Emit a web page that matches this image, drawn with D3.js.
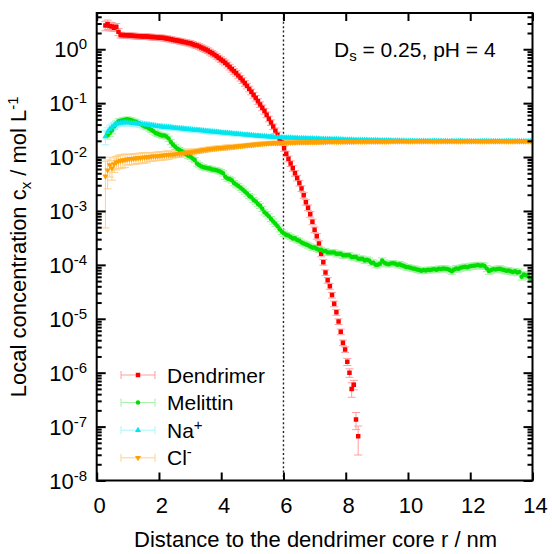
<!DOCTYPE html>
<html><head><meta charset="utf-8">
<script src="https://cdn.jsdelivr.net/npm/d3@7"></script>
<style>
body{margin:0;background:#fff}
svg{display:block}
text{font-family:"Liberation Sans",Arial,Helvetica,sans-serif;fill:#000}
</style>
</head><body>
<svg id="chart" width="552" height="554"></svg>
<script>
// ---------------- data ----------------
const rStep = 0.07;               // nm, radial bin width
const xTickValues = [0, 2, 4, 6, 8, 10, 12, 14];
const yExponents = [0, -1, -2, -3, -4, -5, -6, -7, -8];
const markerR = 6;                // dotted line position (nm)

const dendrimerStart = 4;
const dendrimerConc = [
 2.75,2.9,2.7,2.65,2.5,2.6,2.1,1.84,1.83,1.82,
 1.81,1.79,1.79,1.77,1.76,1.75,1.74,1.73,1.73,1.72,
 1.71,1.69,1.68,1.66,1.65,1.64,1.63,1.61,1.58,1.56,
 1.53,1.50,1.47,1.45,1.42,1.39,1.36,1.34,1.31,1.29,
 1.24,1.20,1.17,1.13,1.08,1.035,0.993,0.946,0.891,0.841,
 0.794,0.741,0.692,0.646,0.603,0.562,0.513,0.468,0.427,0.389,
 0.359,0.324,0.292,0.263,0.234,0.209,0.184,0.162,0.141,0.124,
 0.108,0.0944,0.0822,0.0713,0.061,0.0513,0.0437,0.0367,0.0309,0.026,
 0.0221,0.0186,0.0145,0.0115,0.0093,0.0076,0.0062,0.005,0.0041,0.0033,
 0.0026,0.00195,0.00145,0.00115,8.7e-4,6.3e-4,4.5e-4,3.4e-4,2.5e-4,1.6e-4,
 1.12e-4,7.2e-5,5.2e-5,4.0e-5,2.75e-5,1.9e-5,1.32e-5,8.9e-6,5.75e-6,3.6e-6,
 2.7e-6,1.6e-6,1.0e-6,5.0e-7,6.0e-7,1.35e-7,6.6e-8
];
const dendrimerErrPct = [
 20,20,18,18,15,15,15,12,12,12,
 12,12,12,12,12,12,12,12,12,12,
 12,12,12,12,12,12,12,12,12,12,
 12,12,12,12,12,12,12,12,12,12,
 12,12,12,12,12,12,12,12,12,12,
 12,12,12,12,12,12,12,12,12,12,
 12,12,12,12,12,12,12,12,12,12,
 12,12,12,12,12,12,12,12,12,12,
 12,12,12,12,12,12,12,12,12,12,
 12,12,12,12,12,12,12,12,12,12,
 12,12,12,12,12,12,12,12,12,12,
 12,15,18,30,20,35,55
];

const melittinStart = 5;
const melittinConc = [
 0.0253,0.028,0.031,0.037,0.042,0.046,0.047,0.048,0.049,0.050,
 0.049,0.048,0.046,0.045,0.043,0.041,0.039,0.037,0.036,0.034,
 0.032,0.030,0.028,0.027,0.026,0.025,0.025,0.024,0.022,0.019,
 0.017,0.0155,0.0143,0.0135,0.0128,0.0122,0.0113,0.0106,0.0102,0.0094,
 0.0088,0.0076,0.0071,0.0067,0.0065,0.0063,0.0062,0.0061,0.0059,0.0058,
 0.0057,0.0055,0.0053,0.0050,0.0043,0.0040,0.0039,0.0037,0.0033,0.0031,
 0.0029,0.0027,0.0025,0.0023,0.0021,0.0019,0.0018,0.0016,0.0015,0.00135,
 0.00125,0.0011,0.00095,0.00088,0.0008,0.00071,0.00064,0.00058,0.00052,0.00046,
 0.00041,0.00038,0.00036,0.00035,0.00033,0.00031,0.00031,0.00029,0.00028,0.00026,
 0.00025,0.00024,0.00023,0.00022,0.00021,0.00021,0.0002,0.00019,0.00019,0.00018,
 0.00018,0.00017,0.00017,0.00017,0.00017,0.00016,0.00016,0.00016,0.00015,0.00015,
 0.00015,0.00015,0.00014,0.00014,0.00014,0.00013,0.00013,0.00013,0.00012,0.000125,
 0.00012,0.00011,0.00011,0.0001,0.0001,0.000105,1.2e-4,1.1e-4,1.05e-4,1.03e-4,
 1.06e-4,1.07e-4,1.05e-4,1.0e-4,1.03e-4,9.8e-5,9.5e-5,9.1e-5,9.0e-5,8.8e-5,
 8.6e-5,8.5e-5,8.2e-5,8.0e-5,7.8e-5,8.0e-5,7.9e-5,8.1e-5,8.0e-5,8.2e-5,
 8.3e-5,8.1e-5,8.5e-5,8.4e-5,8.6e-5,8.5e-5,8.4e-5,8.0e-5,7.6e-5,8.2e-5,
 8.6e-5,8.5e-5,8.8e-5,9.0e-5,9.2e-5,9.0e-5,9.3e-5,9.5e-5,9.6e-5,9.7e-5,
 9.9e-5,9.6e-5,9.8e-5,9.5e-5,8.6e-5,7.7e-5,8.0e-5,8.3e-5,8.2e-5,8.4e-5,
 8.5e-5,8.2e-5,8.0e-5,7.8e-5,7.9e-5,7.6e-5,7.4e-5,7.6e-5,7.2e-5,7.4e-5,
 6.0e-5,6.6e-5,6.4e-5,6.2e-5,5.6e-5,5.8e-5
];
const melittinErrPct = [
 15,14,13,12,11,11,11,11,11,11,
 11,11,11,11,11,11,11,11,11,11,
 11,11,11,11,11,11,11,11,11,11,
 11,11,11,11,11,11,11,11,11,11,
 11,11,11,11,11,11,11,11,11,11,
 11,11,11,11,11,11,11,11,11,11,
 11,11,11,11,11,11,11,11,11,11,
 11,11,11,11,11,11,11,11,11,11,
 11,11,11,11,11,11,11,11,11,11,
 11,11,11,11,11,11,11,11,11,11,
 12,12,12,12,12,12,12,12,12,12,
 12,12,12,12,12,12,12,12,12,12,
 12,12,12,12,12,12,12,12,12,12,
 12,12,12,12,12,12,12,12,12,12,
 12,12,12,12,12,12,12,12,12,12,
 12,12,12,12,12,12,12,12,12,12,
 13,13,13,13,13,13,13,13,13,13,
 13,13,13,13,13,13,13,13,13,13,
 13,13,13,13,13,13,13,13,13,13,
 13,13,13,13,13,13
];

const sodiumStart = 4;
const sodiumConc = [
 0.024,0.029,0.033,0.036,0.039,0.041,0.042,0.043,0.0435,0.0437,
 0.0437,0.0434,0.0430,0.0425,0.0420,0.0415,0.0410,0.0406,0.0401,0.0396,
 0.0392,0.0387,0.0383,0.0378,0.0374,0.0370,0.0366,0.0362,0.0359,0.0356,
 0.0352,0.0349,0.0346,0.0343,0.0340,0.0337,0.0333,0.0330,0.0327,0.0324,
 0.0322,0.0319,0.0316,0.0313,0.0310,0.0308,0.0305,0.0302,0.0299,0.0296,
 0.0294,0.0291,0.0288,0.0286,0.0283,0.0281,0.0278,0.0276,0.0274,0.0271,
 0.0269,0.0267,0.0264,0.0262,0.0260,0.0258,0.0256,0.0254,0.0252,0.0249,
 0.0248,0.0245,0.0244,0.0242,0.0241,0.0239,0.0238,0.0236,0.0234,0.0233,
 0.0232,0.0230,0.0229,0.02286,0.0228,0.0227,0.0226,0.0225,0.0225,0.0224,
 0.0223,0.0222,0.0222,0.0221,0.0220,0.0220,0.0219,0.0218,0.0218,0.0217,
 0.0217,0.0216,0.0215,0.0215,0.0214,0.0214,0.0213,0.0212,0.0212,0.0211,
 0.0210,0.0210,0.0209,0.0209,0.0208,0.0208,0.0207,0.0207,0.0206,0.0206,
 0.0206,0.0205,0.0205,0.0204,0.0204,0.0204,0.0203,0.0203,0.0203,0.0202,
 0.0202,0.0202,0.0201,0.0201,0.0201,0.0200,0.0200,0.0200,0.0199,0.0199,
 0.0199,0.0198,0.0199,0.0199,0.0198,0.0199,0.0198,0.0198,0.0199,0.0198,
 0.0198,0.0198,0.0197,0.0198,0.0198,0.0197,0.0198,0.0197,0.0197,0.0198,
 0.0197,0.0197,0.0197,0.0198,0.0197,0.0197,0.0196,0.0197,0.0197,0.0197,
 0.0197,0.0196,0.0197,0.0197,0.0197,0.0196,0.0197,0.0197,0.0196,0.0197,
 0.0197,0.0196,0.0197,0.0196,0.0197,0.0197,0.0196,0.0197,0.0196,0.0197,
 0.0196,0.0197,0.0196,0.0197,0.0197,0.0196,0.0197
];
const sodiumErrPct = [
 30,20,15,13,13,13,13,13,13,13,
 13,13,13,13,13,13,13,13,13,13,
 11,11,11,11,11,11,11,11,11,11,
 10,10,10,10,10,10,10,10,10,10,
 10,10,10,10,10,10,10,10,10,10,
 9,9,9,9,9,9,9,9,9,9,
 8,8,8,8,8,8,8,8,8,8,
 8,8,8,8,8,8,8,8,8,8,
 7,7,7,7,7,7,7,7,7,7,
 7,7,7,7,7,7,7,7,7,7,
 6,6,6,6,6,6,6,6,6,6,
 6,6,6,6,6,6,6,6,6,6,
 6,6,6,6,6,6,6,6,6,6,
 6,6,6,6,6,6,6,6,6,6,
 6,6,6,6,6,6,6,6,6,6,
 6,6,6,6,6,6,6,6,6,6,
 6,6,6,6,6,6,6,6,6,6,
 6,6,6,6,6,6,6,6,6,6,
 6,6,6,6,6,6,6,6,6,6,
 6,6,6,6,6,6,6
];

const chlorideStart = 4;
const chlorideConc = [
 0.0044,0.0057,0.0071,0.0062,0.0074,0.0080,0.0084,0.0086,0.0087,0.0089,
 0.0091,0.0092,0.0093,0.0094,0.0095,0.0096,0.0097,0.0098,0.0099,0.0100,
 0.0101,0.0102,0.0103,0.0104,0.0105,0.0106,0.0107,0.0108,0.0109,0.0110,
 0.0111,0.0112,0.0113,0.0114,0.0115,0.0117,0.0119,0.0121,0.0122,0.0124,
 0.0126,0.0127,0.0129,0.0131,0.0133,0.0135,0.0137,0.0139,0.0141,0.0143,
 0.0144,0.0145,0.0147,0.0148,0.0149,0.0151,0.0152,0.0153,0.0155,0.0156,
 0.0158,0.0159,0.0161,0.0162,0.0164,0.0165,0.0167,0.0168,0.0170,0.0172,
 0.0173,0.0175,0.0177,0.0178,0.0179,0.0180,0.0181,0.0182,0.0183,0.0183,
 0.0184,0.0185,0.0185,0.0186,0.0186,0.0187,0.0187,0.0187,0.0188,0.0188,
 0.0188,0.0189,0.0189,0.0189,0.0190,0.0190,0.0190,0.0190,0.0191,0.0191,
 0.0191,0.0191,0.0192,0.0192,0.0192,0.0192,0.0192,0.0193,0.0193,0.0193,
 0.0193,0.0193,0.0193,0.0193,0.0193,0.0194,0.0194,0.0194,0.0194,0.0194,
 0.0194,0.0194,0.0194,0.0195,0.0195,0.0195,0.0195,0.0195,0.0195,0.0195,
 0.0195,0.0196,0.0196,0.0196,0.0196,0.0196,0.0196,0.0196,0.0196,0.0196,
 0.0196,0.0196,0.0197,0.0196,0.0196,0.0197,0.0196,0.0196,0.0197,0.0196,
 0.0197,0.0196,0.0197,0.0197,0.0196,0.0197,0.0197,0.0196,0.0197,0.0197,
 0.0197,0.0196,0.0197,0.0197,0.0197,0.0197,0.0196,0.0197,0.0197,0.0197,
 0.0197,0.0197,0.0197,0.0196,0.0197,0.0197,0.0197,0.0197,0.0197,0.0196,
 0.0197,0.0197,0.0197,0.0197,0.0196,0.0197,0.0197,0.0197,0.0197,0.0197,
 0.0197,0.0197,0.0196,0.0197,0.0197,0.0197,0.0197
];
const chlorideErrPct = [
 89,55,40,40,30,28,28,28,28,28,
 22,22,22,22,22,22,22,22,22,22,
 18,18,18,18,18,18,18,18,18,18,
 14,14,14,14,14,14,14,14,14,14,
 10,10,10,10,10,10,10,10,10,10,
 10,10,10,10,10,10,10,10,10,10,
 8,8,8,8,8,8,8,8,8,8,
 8,8,8,8,8,8,8,8,8,8,
 8,8,8,8,8,8,8,8,8,8,
 8,8,8,8,8,8,8,8,8,8,
 6,6,6,6,6,6,6,6,6,6,
 6,6,6,6,6,6,6,6,6,6,
 6,6,6,6,6,6,6,6,6,6,
 6,6,6,6,6,6,6,6,6,6,
 6,6,6,6,6,6,6,6,6,6,
 6,6,6,6,6,6,6,6,6,6,
 6,6,6,6,6,6,6,6,6,6,
 6,6,6,6,6,6,6,6,6,6,
 6,6,6,6,6,6,6,6,6,6,
 6,6,6,6,6,6,6
];

const seriesNames = ["Dendrimer", "Melittin", "Na", "Cl"];
const seriesSup = ["", "", "+", "-"];

// ---------------- chart ----------------
const svg = d3.select("#chart");
const plotL = 96.7, plotR = 532.5, plotT = 13, plotB = 480.5;
const x = d3.scaleLinear().domain([0, 14]).range([plotL, plotR]);
const y = d3.scaleLog().domain([1e-8, 4.7]).range([plotB, plotT]);

const series = [
  {conc: dendrimerConc, err: dendrimerErrPct, start: dendrimerStart, color: "#ff0000", errColor: "#ff9f9f", sym: d3.symbolSquare, size: 20, rot: 0},
  {conc: melittinConc, err: melittinErrPct, start: melittinStart, color: "#00dd00", errColor: "#a4f0a4", sym: d3.symbolCircle, size: 16, rot: 0},
  {conc: sodiumConc, err: sodiumErrPct, start: sodiumStart, color: "#00e5ee", errColor: "#a8f6fa", sym: d3.symbolTriangle, size: 16, rot: 0},
  {conc: chlorideConc, err: chlorideErrPct, start: chlorideStart, color: "#ffa000", errColor: "#ffd08a", sym: d3.symbolTriangle, size: 16, rot: 180}
];
series.forEach(s => {
  s.pts = s.conc.map((c, i) => ({r: (s.start + i) * rStep, c, e: c * s.err[i] / 100}));
});

svg.append("defs").append("clipPath").attr("id", "clip")
  .append("rect").attr("x", plotL).attr("y", plotT).attr("width", plotR - plotL).attr("height", plotB - plotT);

const plot = svg.append("g").attr("clip-path", "url(#clip)");

// dotted line
plot.append("line")
  .attr("x1", x(markerR)).attr("x2", x(markerR)).attr("y1", plotT).attr("y2", plotB)
  .attr("stroke", "#222").attr("stroke-width", 1.4).attr("stroke-dasharray", "2,2.4");

const capW = 4;
const yMin = 1e-8, yMax = 4.7;
// error bars first
series.forEach(s => {
  const g = plot.append("g").attr("stroke", s.errColor).attr("stroke-width", 1).attr("fill", "none");
  s.pts.forEach(p => {
    const lo = y(Math.max(p.c - p.e, yMin)), hi = y(Math.min(p.c + p.e, yMax));
    const cx = x(p.r);
    g.append("line").attr("x1", cx).attr("x2", cx).attr("y1", lo).attr("y2", hi);
    if (p.c - p.e > yMin) g.append("line").attr("x1", cx - capW).attr("x2", cx + capW).attr("y1", lo).attr("y2", lo);
    if (p.c + p.e < yMax) g.append("line").attr("x1", cx - capW).attr("x2", cx + capW).attr("y1", hi).attr("y2", hi);
  });
});
// markers
series.forEach(s => {
  const path = d3.symbol().type(s.sym).size(s.size)();
  plot.append("g").selectAll("path").data(s.pts).join("path")
    .attr("d", path)
    .attr("transform", p => `translate(${x(p.r)},${y(p.c)}) rotate(${s.rot})`)
    .attr("fill", s.color);
});

// axes (ticks inward, mirrored)
const majorY = yExponents.map(e => Math.pow(10, e));
const minorY = [];
yExponents.forEach(e => { for (let k = 2; k <= 9; k++) { const v = k * Math.pow(10, e); if (v <= yMax) minorY.push(v); } });

function styleAxis(g) {
  g.select(".domain").remove();
  g.selectAll(".tick line").attr("stroke", "#000").attr("stroke-width", 2);
}
svg.append("g").attr("transform", `translate(${plotL},0)`).call(d3.axisLeft(y).tickValues(majorY).tickSize(-9).tickFormat("")).call(styleAxis);
svg.append("g").attr("transform", `translate(${plotL},0)`).call(d3.axisLeft(y).tickValues(minorY).tickSize(-5).tickFormat("")).call(styleAxis);
svg.append("g").attr("transform", `translate(${plotR},0)`).call(d3.axisRight(y).tickValues(majorY).tickSize(-9).tickFormat("")).call(styleAxis);
svg.append("g").attr("transform", `translate(${plotR},0)`).call(d3.axisRight(y).tickValues(minorY).tickSize(-5).tickFormat("")).call(styleAxis);
svg.append("g").attr("transform", `translate(0,${plotB})`).call(d3.axisBottom(x).tickValues(xTickValues).tickSize(-8).tickFormat("")).call(styleAxis);
svg.append("g").attr("transform", `translate(0,${plotT})`).call(d3.axisTop(x).tickValues(xTickValues).tickSize(-8).tickFormat("")).call(styleAxis);

// frame
svg.append("rect").attr("x", plotL).attr("y", plotT).attr("width", plotR - plotL).attr("height", plotB - plotT)
  .attr("fill", "none").attr("stroke", "#000").attr("stroke-width", 2);

// x tick labels
svg.append("g").selectAll("text").data(xTickValues).join("text")
  .attr("x", d => x(d) + 3).attr("y", 513).attr("text-anchor", "middle")
  .attr("font-size", 22).text(d => d);

// y tick labels
const yl = svg.append("g").selectAll("text").data(yExponents).join("text")
  .attr("x", 87).attr("y", d => y(Math.pow(10, d)) + 8).attr("text-anchor", "end").attr("font-size", 22);
yl.append("tspan").text("10");
yl.append("tspan").attr("font-size", 15).attr("dy", -8).text(d => d);

// axis titles
svg.append("text").attr("x", (plotL + plotR) / 2 + 1).attr("y", 547).attr("text-anchor", "middle")
  .attr("font-size", 22).text("Distance to the dendrimer core r / nm");
const yt = svg.append("text").attr("transform", `translate(26,${(plotT + plotB) / 2}) rotate(-90)`)
  .attr("text-anchor", "middle").attr("font-size", 22);
yt.append("tspan").text("Local concentration c");
yt.append("tspan").attr("font-size", 15).attr("dy", 5).text("x");
yt.append("tspan").attr("dy", -5).text(" / mol L");
yt.append("tspan").attr("font-size", 15).attr("dy", -8).text("-1");

// annotation
const ann = svg.append("text").attr("x", 334).attr("y", 57).attr("font-size", 21);
ann.append("tspan").text("D");
ann.append("tspan").attr("font-size", 15).attr("dy", 4).text("s");
ann.append("tspan").attr("dy", -4).text(" = 0.25, pH = 4");

// legend
const legend = svg.append("g");
series.forEach((s, i) => {
  const ly = 375 + i * 27.6;
  const g = legend.append("g");
  g.append("line").attr("x1", 121).attr("x2", 155).attr("y1", ly).attr("y2", ly).attr("stroke", s.errColor).attr("stroke-width", 1);
  [121, 155].forEach(xx => g.append("line").attr("x1", xx).attr("x2", xx).attr("y1", ly - 4).attr("y2", ly + 4).attr("stroke", s.errColor).attr("stroke-width", 1));
  g.append("path").attr("d", d3.symbol().type(s.sym).size(s.size)()).attr("transform", `translate(138,${ly}) rotate(${s.rot})`).attr("fill", s.color);
  const t = g.append("text").attr("x", 167).attr("y", ly + 7.5).attr("font-size", 21);
  t.append("tspan").text(seriesNames[i]);
  if (seriesSup[i]) t.append("tspan").attr("font-size", 15).attr("dy", -8).text(seriesSup[i]);
});
</script>
</body></html>
